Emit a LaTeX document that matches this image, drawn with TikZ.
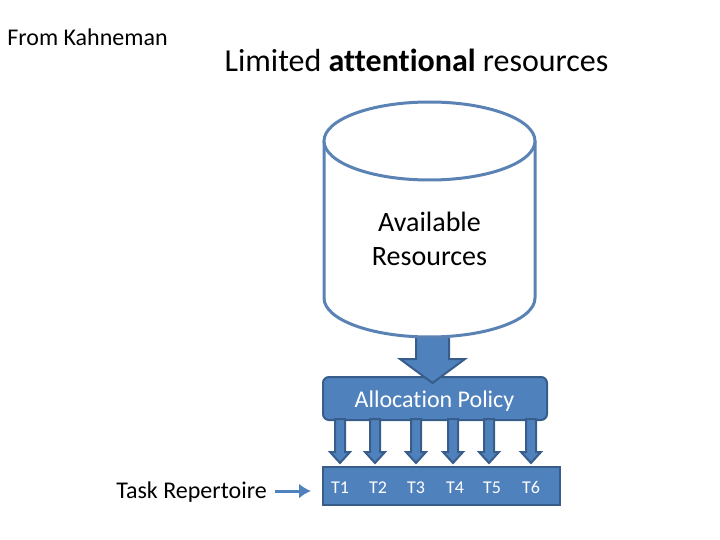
\documentclass[tikz,border=0pt]{standalone}
\usepackage{fontspec}
\setmainfont{Carlito}[Ligatures=NoCommon]
\usetikzlibrary{calc,arrows.meta}
\definecolor{blfill}{HTML}{4F81BD}
\definecolor{bldark}{HTML}{385D8A}
\definecolor{cylline}{HTML}{5A82B4}
\newcommand{\fs}[1]{\fontsize{#1}{#1}\selectfont}
\begin{document}
\begin{tikzpicture}[x=1pt,y=-1pt,
  txt/.style={inner sep=0pt, text=black},
  bluebox/.style={fill=blfill, draw=bldark, line width=2pt},
  blockarrow/.style={fill=blfill, draw=bldark, line width=2pt, line join=miter},
  tlabel/.style={inner sep=0pt, text=white, font=\fs{18}, anchor=base}]
\useasboundingbox (0,0) rectangle (720,540);
% titles
\node[txt, font=\fs{24}] (from) at (87.5,37) {From Kahneman};
\node[txt, font=\fs{32}] (title) at (416.5,60) {Limited \textbf{attentional} resources};
% allocation box
\node[bluebox, rounded corners=6pt, minimum width=224pt, minimum height=43pt, inner sep=0pt] (alloc) at (435,398.5) {};
\node[inner sep=0pt, text=white, font=\fs{24}, anchor=base] (alloctext) at (434.5,407) {Allocation Policy};
% big arrow from cylinder to allocation
\coordinate (bigtop) at (432.5,320);
\coordinate (bigtip) at (432.5,383);
\draw[blockarrow] ($(bigtop)+(-16.5,0)$) -- ($(bigtop)+(16.5,0)$) -- (449,359) -- (465,359) -- (bigtip)
   -- (400,359) -- (416,359) -- cycle;
% cylinder
\coordinate (cyl) at (429.5,141);
\fill[white] (324,141) -- (324,298) arc[start angle=180, end angle=0, x radius=105.5, y radius=39] -- (535,141) -- cycle;
\draw[cylline, line width=3pt] (324,141) -- (324,298) arc[start angle=180, end angle=0, x radius=105.5, y radius=39] -- (535,141);
\draw[cylline, line width=3pt, fill=white] (cyl) ellipse[x radius=105.5, y radius=39];
\node[txt, font=\fontsize{28}{34}\selectfont, align=center] (avail) at (429.5,239) {Available\\Resources};
% task box
\node[bluebox, minimum width=237pt, minimum height=38pt, inner sep=0pt] (tasks) at (441.5,486) {};
% small arrows and labels
\foreach \i/\x/\lx in {1/340/340,2/375/378,3/416/416,4/453/455,5/489/492,6/531/531}{
  \draw[blockarrow] (\x-5,419) -- (\x+5,419) -- (\x+5,452) -- (\x+10,452) -- (\x,463)
     -- (\x-10,452) -- (\x-5,452) -- cycle;
  \node[tlabel] (t\i) at (\lx,493) {T\i};
}
% task repertoire
\node[txt, font=\fs{24}] (rep) at (191.5,492) {Task Repertoire};
\coordinate (repend) at (311,491);
\draw[blfill, line width=3pt, -{Latex[length=12pt,width=15pt]}] (275,491) -- (repend);
\end{tikzpicture}
\end{document}
